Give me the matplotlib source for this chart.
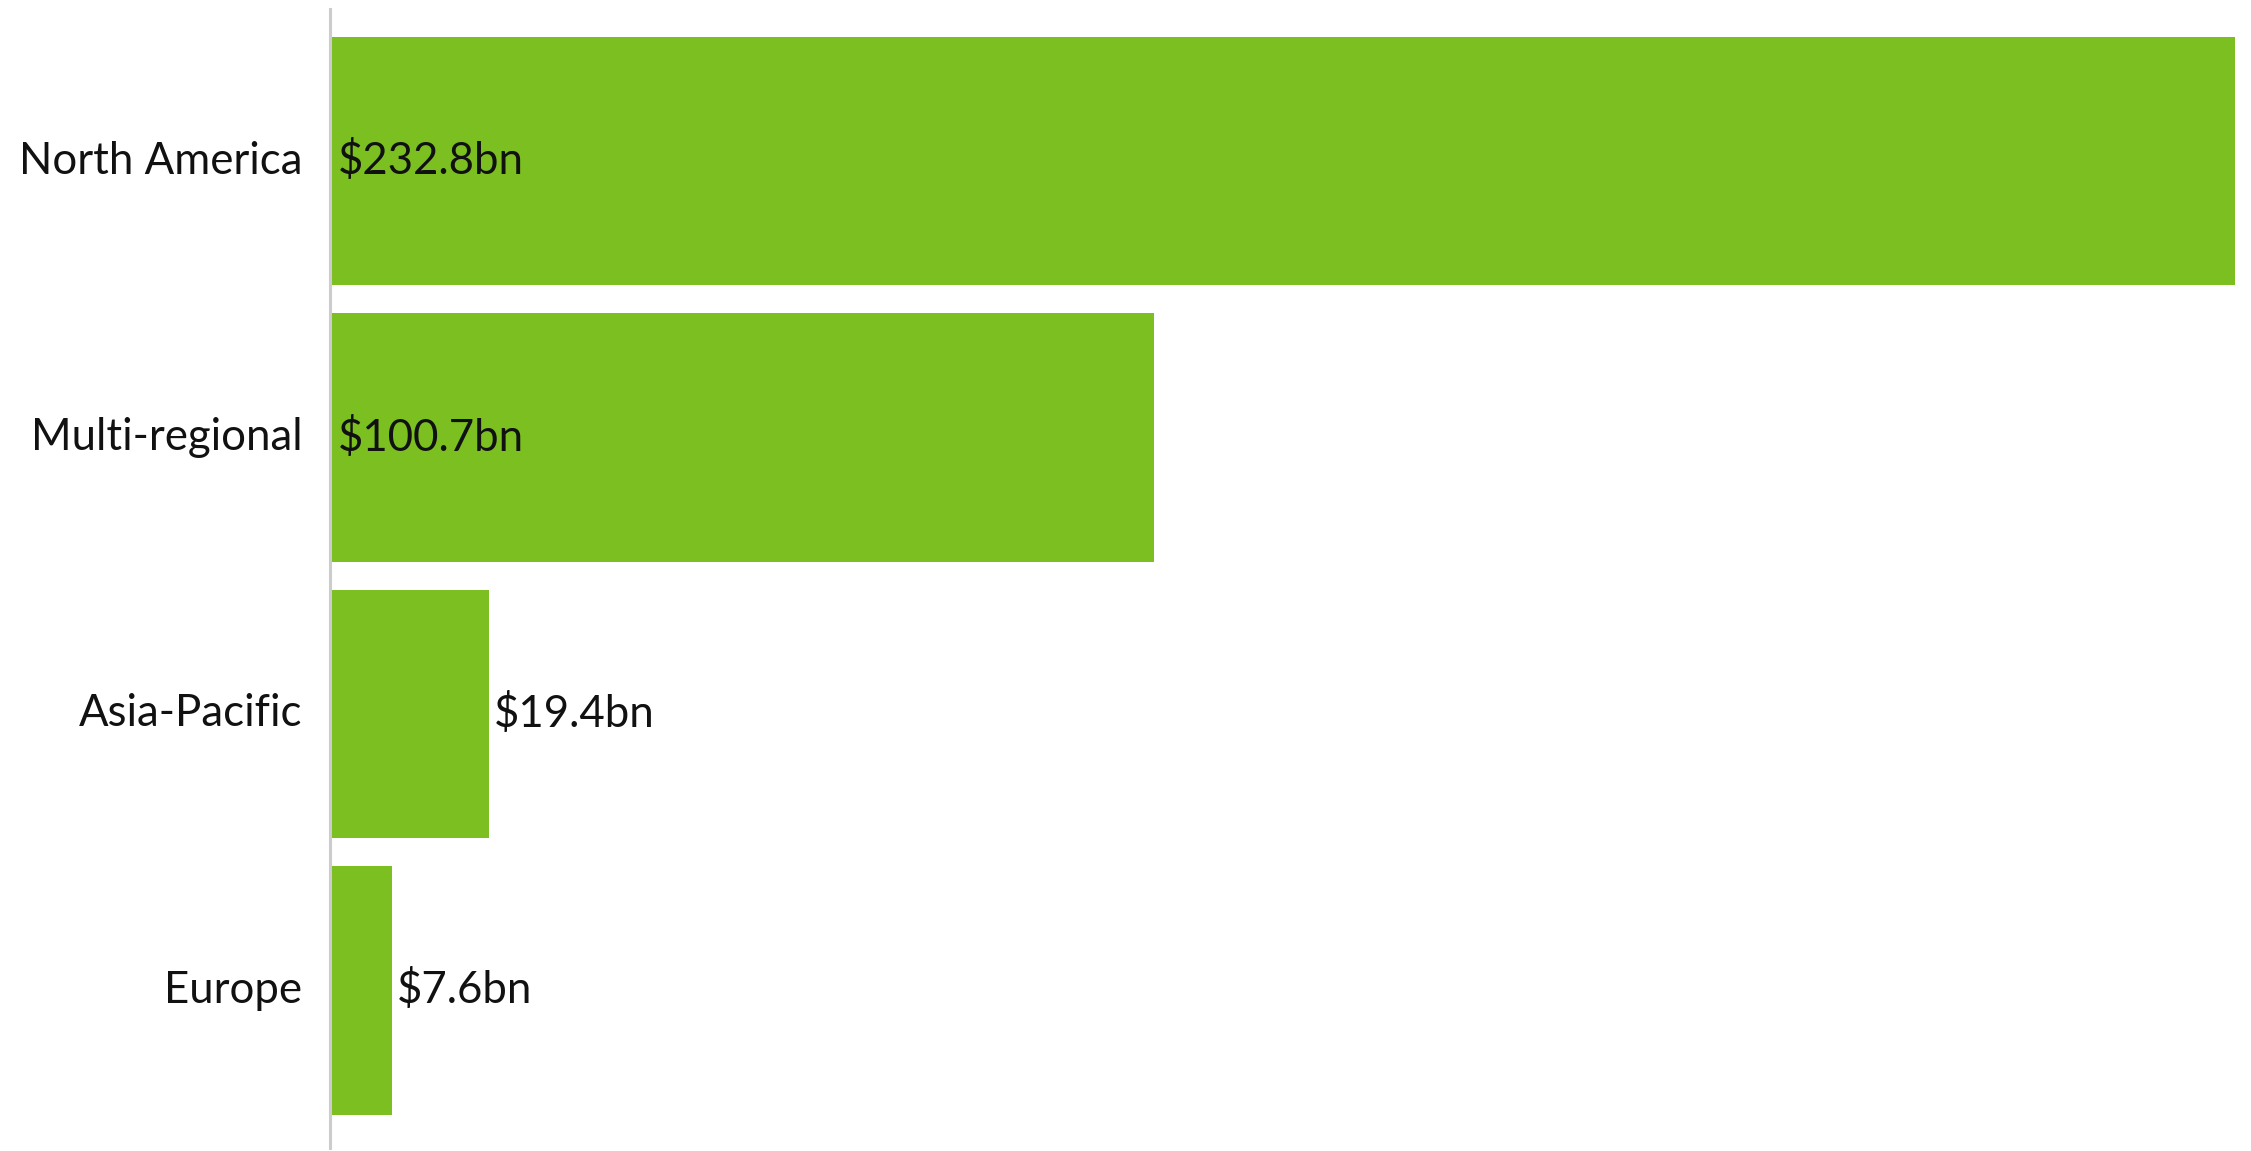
import matplotlib.pyplot as plt

regions = ["North America", "Multi-regional", "Asia-Pacific", "Europe"]
values = [232.8, 100.7, 19.4, 7.6]
labels = ["$232.8bn", "$100.7bn", "$19.4bn", "$7.6bn"]

plt.rcParams['font.family'] = ['Lato', 'DejaVu Sans']

fig = plt.figure(figsize=(22.51, 11.51), dpi=100)
ax = fig.add_axes([330 / 2251, 3 / 1151, (2235 - 330) / 2251, (1142 - 3) / 1151])

y = range(len(regions))
ax.barh(y, values, height=0.9, color='#7bbf21', zorder=2)

# labels go inside the bar when it is wide enough, else just past its end
for i, (v, lab) in enumerate(zip(values, labels)):
    if v > 50:
        ax.text(0.9, i, lab, va='center', ha='left', fontsize=31.5, color='#111111', zorder=3)
    else:
        ax.text(v + 0.6, i, lab, va='center', ha='left', fontsize=31.5, color='#111111', zorder=3)

ax.set_xlim(0, max(values))
ax.set_ylim(3.57, -0.55)
ax.set_yticks(list(y))
ax.set_yticklabels(regions, fontsize=31.5, color='#111111', va='center')
ax.tick_params(axis='y', length=0, pad=20)
ax.set_xticks([])

for s in ['top', 'right', 'bottom']:
    ax.spines[s].set_visible(False)
ax.spines['left'].set_color('#cccccc')
ax.spines['left'].set_linewidth(2.2)
ax.spines['left'].set_zorder(4)

fig.savefig('out.png', dpi=100, facecolor='white')
